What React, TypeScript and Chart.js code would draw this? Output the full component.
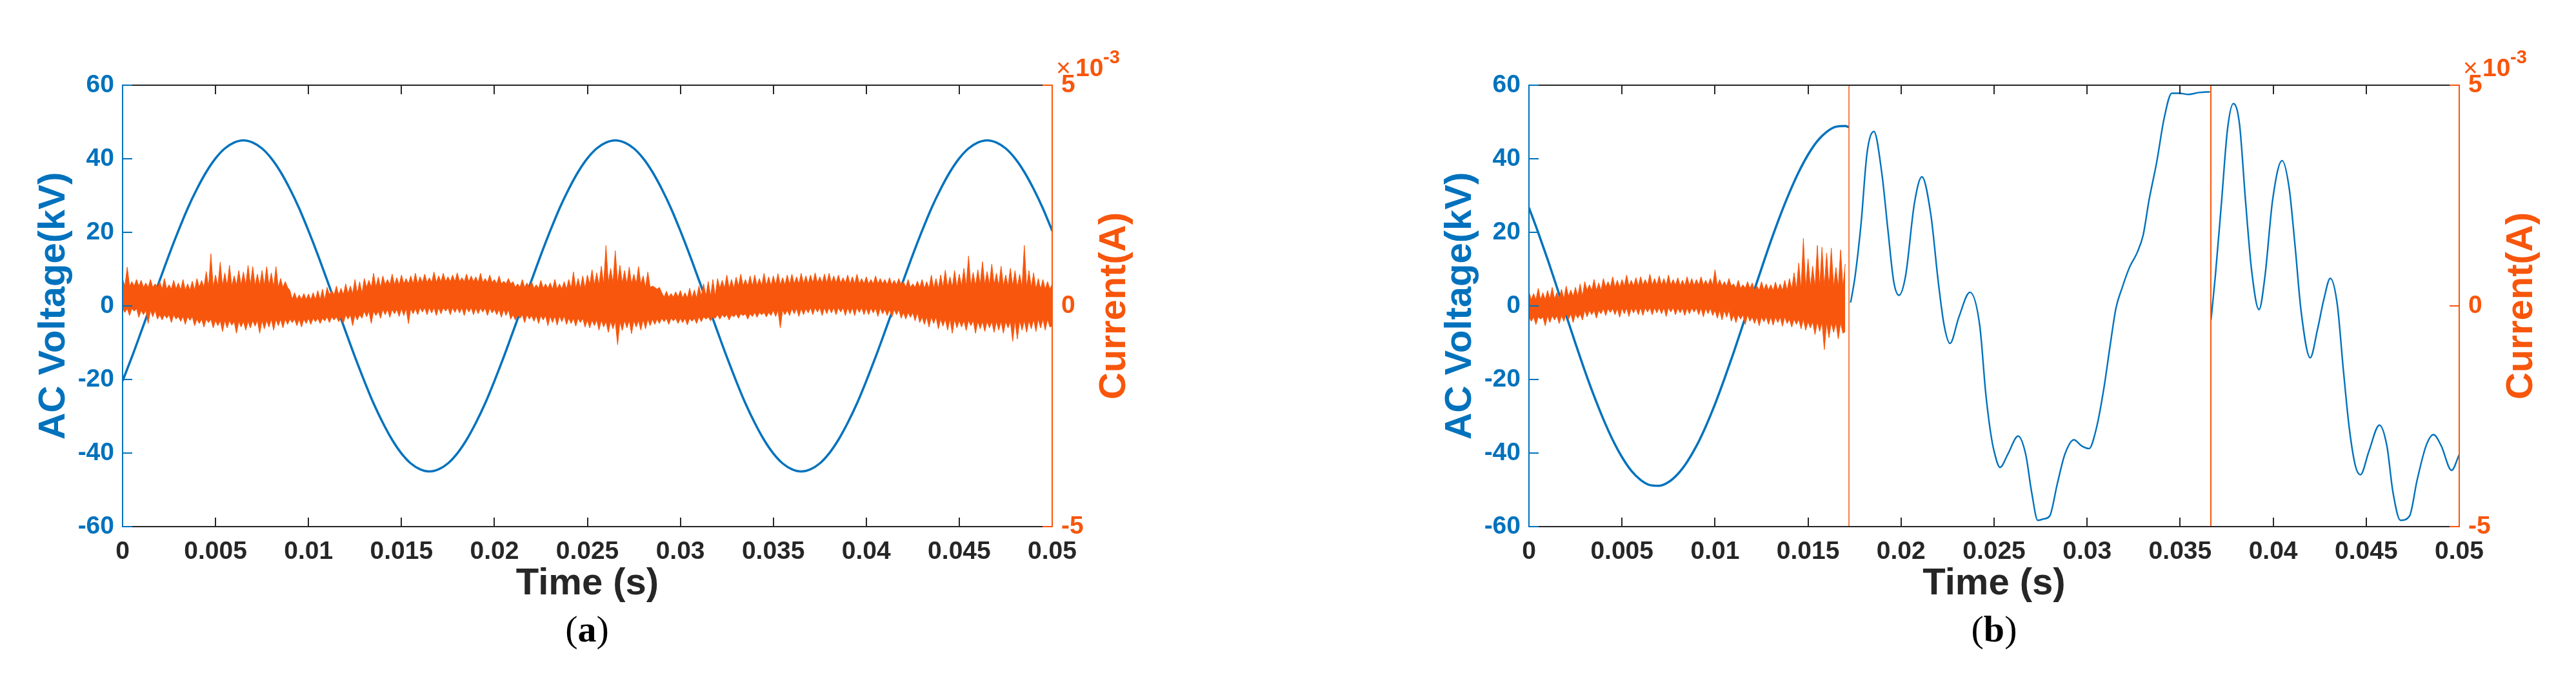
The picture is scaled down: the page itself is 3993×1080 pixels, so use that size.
import React, { useEffect, useRef } from 'react';
import { Chart, registerables } from 'chart.js';

Chart.register(...registerables);

const BLUE = '#0072BD';
const ORANGE = '#F7560C';
const DARK = '#262626';
const SANS = '"Liberation Sans", Arial, Helvetica, sans-serif';
const SERIF = '"Liberation Serif", "Times New Roman", serif';

// ---------- axes / labels ----------
const X_TICKS = [0, 0.005, 0.01, 0.015, 0.02, 0.025, 0.03, 0.035, 0.04, 0.045, 0.05];
const X_TICK_LABELS = ['0', '0.005', '0.01', '0.015', '0.02', '0.025', '0.03', '0.035', '0.04', '0.045', '0.05'];
const V_TICKS = [-60, -40, -20, 0, 20, 40, 60];
const V_TICK_LABELS = ['-60', '-40', '-20', '0', '20', '40', '60'];
const I_TICKS = [-5, 0, 5];
const I_TICK_LABELS = ['-5', '0', '5'];
const TITLE_X = 'Time (s)';
const TITLE_V = 'AC Voltage(kV)';
const TITLE_I = 'Current(A)';
const EXP_BASE = '×10';
const EXP_POWER = '-3';
const CAPTIONS = ['a', 'b'];

// ---------- panel (a) ----------
// voltage (kV), one sample every 0.5 ms, 0 .. 50 ms
const A_VOLT_STEP = 0.0005;
const A_VOLT = [
  -20.4, -13.9, -7.0, 0, 7.0, 13.9, 20.4, 26.5, 31.8, 36.4, 40.1, 42.8, 44.4, 45, 44.4, 42.8, 40.1, 36.4, 31.8, 26.5,
  20.4, 13.9, 7.0, 0, -7.0, -13.9, -20.4, -26.5, -31.8, -36.4, -40.1, -42.8, -44.4, -45, -44.4, -42.8, -40.1, -36.4, -31.8, -26.5,
  -20.4, -13.9, -7.0, 0, 7.0, 13.9, 20.4, 26.5, 31.8, 36.4, 40.1, 42.8, 44.4, 45, 44.4, 42.8, 40.1, 36.4, 31.8, 26.5,
  20.4, 13.9, 7.0, 0, -7.0, -13.9, -20.4, -26.5, -31.8, -36.4, -40.1, -42.8, -44.4, -45, -44.4, -42.8, -40.1, -36.4, -31.8, -26.5,
  -20.4, -13.9, -7.0, 0, 7.0, 13.9, 20.4, 26.5, 31.8, 36.4, 40.1, 42.8, 44.4, 45, 44.4, 42.8, 40.1, 36.4, 31.8, 26.5,
  20.4,
];
// current (x1e-3 A): solid core band, one value per ms
const A_CORE_STEP = 0.001;
const A_CORE_HI = [
  0.45, 0.42, 0.38, 0.36, 0.42, 0.45, 0.47, 0.46, 0.42, 0.15, 0.14, 0.25, 0.28, 0.42, 0.48, 0.5, 0.53, 0.55, 0.55, 0.53,
  0.5, 0.42, 0.4, 0.38, 0.4, 0.48, 0.52, 0.5, 0.42, 0.2, 0.18, 0.22, 0.4, 0.45, 0.46, 0.48, 0.5, 0.52, 0.52, 0.5,
  0.5, 0.48, 0.42, 0.4, 0.42, 0.45, 0.48, 0.45, 0.42, 0.38, 0.36,
];
const A_CORE_LO = [
  -0.06, -0.1, -0.2, -0.24, -0.3, -0.33, -0.35, -0.33, -0.3, -0.3, -0.28, -0.25, -0.2, -0.12, -0.08, -0.06, -0.04, -0.04, -0.04, -0.05,
  -0.08, -0.2, -0.22, -0.23, -0.28, -0.32, -0.35, -0.33, -0.3, -0.28, -0.28, -0.25, -0.2, -0.18, -0.15, -0.1, -0.06, -0.04, -0.04, -0.04,
  -0.05, -0.08, -0.15, -0.25, -0.3, -0.33, -0.35, -0.35, -0.33, -0.3, -0.3,
];
// current spikes (x1e-3 A), one per 0.25 ms
const A_SPIKE_STEP = 0.00025;
const A_SPIKE_HI = [
  0.62, 0.88, 0.55, 0.6, 0.58, 0.52, 0.6, 0.5, 0.55, 0.62, 0.48, 0.58, 0.52, 0.6, 0.5, 0.56,
  0.62, 0.58, 0.78, 1.18, 0.7, 0.99, 0.75, 0.92, 0.68, 0.8, 0.77, 0.92, 0.89, 0.72, 0.8, 0.89,
  0.75, 0.89, 0.62, 0.55, 0.35, 0.3, 0.25, 0.28, 0.27, 0.3, 0.35, 0.38, 0.42, 0.35, 0.45, 0.4,
  0.5, 0.45, 0.6, 0.55, 0.62, 0.58, 0.74, 0.65, 0.68, 0.6, 0.72, 0.64, 0.7, 0.62, 0.68, 0.74,
  0.66, 0.72, 0.64, 0.77, 0.68, 0.74, 0.66, 0.7, 0.75, 0.64, 0.72, 0.68, 0.66, 0.74, 0.62, 0.7,
  0.6, 0.68, 0.56, 0.62, 0.55, 0.5, 0.6, 0.52, 0.55, 0.48, 0.58, 0.5, 0.52, 0.6, 0.5, 0.55,
  0.6, 0.77, 0.62, 0.68, 0.7, 0.82, 0.75, 0.9, 1.37, 0.85, 1.25, 0.92, 0.8, 0.88, 0.72, 0.89,
  0.68, 0.77, 0.45, 0.38, 0.3, 0.33, 0.28, 0.32, 0.35, 0.3, 0.4, 0.36, 0.45, 0.5, 0.55, 0.6,
  0.62, 0.58, 0.7, 0.6, 0.65, 0.72, 0.6, 0.68, 0.7, 0.62, 0.74, 0.66, 0.68, 0.73, 0.64, 0.7,
  0.72, 0.66, 0.74, 0.68, 0.7, 0.75, 0.66, 0.72, 0.74, 0.68, 0.7, 0.64, 0.7, 0.66, 0.72, 0.62,
  0.66, 0.6, 0.68, 0.62, 0.6, 0.64, 0.58, 0.62, 0.55, 0.6, 0.5, 0.56, 0.6, 0.55, 0.7, 0.62,
  0.7, 0.81, 0.66, 0.8, 0.72, 0.85, 1.13, 0.76, 0.82, 1.0, 0.78, 0.95, 0.74, 0.9, 0.7, 0.85,
  0.8, 0.72, 1.37, 0.8, 0.75, 0.62, 0.6, 0.55, 0.5,
];
const A_SPIKE_LO = [
  -0.15, -0.22, -0.12, -0.26, -0.2, -0.4, -0.25, -0.3, -0.32, -0.28, -0.38, -0.3, -0.35, -0.42, -0.33, -0.45,
  -0.4, -0.48, -0.38, -0.5, -0.45, -0.58, -0.5, -0.44, -0.62, -0.48, -0.55, -0.5, -0.46, -0.62, -0.52, -0.48,
  -0.55, -0.45, -0.5, -0.42, -0.38, -0.45, -0.48, -0.4, -0.42, -0.36, -0.4, -0.34, -0.38, -0.32, -0.36, -0.4,
  -0.3, -0.45, -0.32, -0.28, -0.25, -0.4, -0.22, -0.28, -0.2, -0.26, -0.18, -0.24, -0.22, -0.4, -0.18, -0.2,
  -0.14, -0.2, -0.16, -0.22, -0.18, -0.12, -0.2, -0.15, -0.16, -0.22, -0.14, -0.2, -0.18, -0.14, -0.22, -0.16,
  -0.2, -0.26, -0.22, -0.3, -0.32, -0.28, -0.38, -0.3, -0.35, -0.4, -0.32, -0.45, -0.38, -0.44, -0.36, -0.42,
  -0.4, -0.46, -0.38, -0.48, -0.5, -0.45, -0.55, -0.48, -0.6, -0.52, -0.88, -0.56, -0.5, -0.63, -0.48, -0.55,
  -0.52, -0.45, -0.42, -0.4, -0.36, -0.42, -0.34, -0.4, -0.38, -0.43, -0.35, -0.4, -0.36, -0.3, -0.34, -0.28,
  -0.3, -0.26, -0.32, -0.25, -0.28, -0.22, -0.3, -0.24, -0.26, -0.2, -0.25, -0.22, -0.24, -0.5, -0.2, -0.22,
  -0.18, -0.24, -0.2, -0.16, -0.2, -0.14, -0.22, -0.18, -0.16, -0.2, -0.14, -0.22, -0.18, -0.22, -0.15, -0.2,
  -0.2, -0.16, -0.24, -0.18, -0.22, -0.26, -0.2, -0.28, -0.3, -0.26, -0.34, -0.38, -0.42, -0.48, -0.4, -0.52,
  -0.46, -0.55, -0.62, -0.5, -0.48, -0.56, -0.45, -0.62, -0.52, -0.58, -0.5, -0.6, -0.55, -0.62, -0.5, -0.8,
  -0.75, -0.55, -0.6, -0.52, -0.58, -0.5, -0.55, -0.48, -0.45,
];

// ---------- panel (b) ----------
// voltage before first breakdown (kV), every 0.5 ms from 0 to 17 ms, then 17.2 ms
const B_PRE_STEP = 0.0005;
const B_PRE_VOLT = [
  26.7, 19.9, 12.7, 5.1, -2.6, -10.2, -17.6, -24.5, -30.8, -36.4, -41.1, -44.8, -47.3, -48.7, -48.9, -47.9, -45.7, -42.4,
  -38.1, -32.8, -26.7, -19.9, -12.7, -5.1, 2.6, 10.2, 17.6, 24.5, 30.8, 36.4, 41.1, 44.8, 47.3, 48.7, 48.9,
];
const B_PRE_END_T = 0.0172;
const B_PRE_END_V = 48.6;
// voltage between the two breakdowns: time (ms) and value (kV)
const B_MID_T = [
  17.29, 17.53, 17.85, 18.17, 18.54, 18.97, 19.29, 19.61, 19.89, 20.24, 20.72, 21.12, 21.6, 22.0, 22.32, 22.63, 23.11,
  23.7, 24.23, 24.55, 24.8, 25.0, 25.32, 25.73, 26.29, 26.7, 27.02, 27.35, 27.67, 27.99, 28.4, 28.8, 29.29, 29.69,
  30.1, 30.5, 30.91, 31.23, 31.55, 31.88, 32.28, 32.69, 33.01, 33.33, 33.74, 34.14, 34.55, 34.95, 35.44, 36.0, 36.6,
];
const B_MID_V = [
  0.9, 8.1, 22.4, 41.5, 47.4, 35.9, 20.8, 6.5, 2.9, 8.1, 28.0, 35.1, 24.8, 6.5, -5.4, -10.2, -3.0,
  3.7, -5.4, -23.7, -34.0, -39.5, -43.9, -40.4, -35.4, -40.4, -50.7, -58.3, -57.9, -57.1, -48.3, -40.4, -36.4, -38.0,
  -38.8, -33.2, -22.1, -11.0, -0.6, 4.9, 10.5, 14.5, 19.2, 28.8, 39.1, 51.0, 57.8, 57.8, 57.5, 58.0, 58.2,
];
// voltage after the second breakdown
const B_POST_T = [
  36.66, 36.89, 37.22, 37.54, 37.86, 38.19, 38.51, 38.84, 39.24, 39.56, 39.97, 40.48, 40.86, 41.18, 41.5, 41.99, 42.39,
  42.72, 43.07, 43.45, 43.77, 44.09, 44.42, 44.69, 45.14, 45.71, 46.11, 46.44, 46.84, 47.33, 47.73, 48.22, 48.62, 49.03,
  49.59, 50.0,
];
const B_POST_V = [
  -3.8, 8.1, 28.0, 47.8, 55.0, 49.4, 28.8, 9.7, -1.0, 8.1, 28.8, 39.5, 32.0, 16.1, -1.4, -14.1, -6.2,
  1.7, 7.5, 0.2, -17.3, -33.2, -43.5, -45.9, -39.6, -32.4, -38.0, -50.7, -58.3, -57.1, -47.5, -38.0, -35.0, -38.0,
  -44.7, -40.4,
];
// current (x1e-3 A) before first breakdown
const B_CORE_STEP = 0.001;
const B_CORE_HI = [0.14, 0.16, 0.22, 0.35, 0.42, 0.45, 0.47, 0.47, 0.46, 0.47, 0.45, 0.4, 0.36, 0.35, 0.38, 0.42, 0.42, 0.42];
const B_CORE_LO = [-0.25, -0.22, -0.18, -0.1, -0.06, -0.05, -0.04, -0.04, -0.05, -0.05, -0.1, -0.2, -0.25, -0.25, -0.3, -0.36, -0.38, -0.38];
const B_SPIKE_STEP = 0.00025;
const B_SPIKE_HI = [
  0.32, 0.28, 0.4, 0.3, 0.35, 0.42, 0.3, 0.38, 0.45, 0.36, 0.42, 0.5, 0.55, 0.48, 0.6, 0.52,
  0.62, 0.55, 0.66, 0.58, 0.6, 0.7, 0.58, 0.64, 0.66, 0.6, 0.72, 0.62, 0.68, 0.62, 0.7, 0.6,
  0.64, 0.58, 0.66, 0.62, 0.6, 0.66, 0.58, 0.62, 0.82, 0.6, 0.55, 0.62, 0.5, 0.58, 0.48, 0.55,
  0.52, 0.45, 0.55, 0.5, 0.48, 0.54, 0.5, 0.58, 0.62, 0.75, 0.97, 1.53, 1.07, 0.9, 1.37, 1.33,
  1.2, 1.31, 0.87, 1.27, 0.95,
];
const B_SPIKE_LO = [
  -0.35, -0.42, -0.3, -0.45, -0.38, -0.32, -0.4, -0.35, -0.3, -0.38, -0.28, -0.32, -0.25, -0.2, -0.28, -0.18,
  -0.22, -0.15, -0.2, -0.26, -0.18, -0.24, -0.16, -0.2, -0.22, -0.14, -0.2, -0.16, -0.18, -0.24, -0.14, -0.2,
  -0.16, -0.22, -0.18, -0.14, -0.2, -0.25, -0.18, -0.22, -0.28, -0.32, -0.26, -0.35, -0.38, -0.3, -0.42, -0.35,
  -0.4, -0.45, -0.36, -0.42, -0.44, -0.38, -0.46, -0.4, -0.48, -0.42, -0.52, -0.55, -0.5, -0.65, -0.58, -0.99,
  -0.72, -0.6, -0.75, -0.62, -0.58,
];
// breakdown instants (s): current leaves the ±5e-3 A range
const B_BREAK_T = [0.0172, 0.03665];
const B_BREAK_WIDTH = [1.5, 2];

// ---------- helpers ----------
type P = { x: number; y: number };

function series(step: number, values: number[]): P[] {
  return values.map((v, i) => ({ x: i * step, y: v }));
}
function seriesMs(times: number[], values: number[]): P[] {
  return times.map((t, i) => ({ x: t / 1000, y: values[i] }));
}
function noiseEdges(coreHi: number[], coreLo: number[], hi: number[], lo: number[], coreStep: number, step: number) {
  const upper: P[] = [];
  const lower: P[] = [];
  const n = hi.length;
  for (let i = 0; i < n; i++) {
    const t = i * step;
    const c = Math.min(Math.floor(t / coreStep + 1e-9), coreHi.length - 1);
    upper.push({ x: t, y: hi[i] });
    if (i < n - 1) {
      upper.push({ x: t + step / 2, y: coreHi[c] });
      lower.push({ x: t, y: coreLo[c] });
      lower.push({ x: t + step / 2, y: lo[i] });
    } else {
      lower.push({ x: t, y: lo[i] });
    }
  }
  return { upper, lower };
}

function noiseDatasets(edges: { upper: P[]; lower: P[] }) {
  return [
    {
      data: edges.upper, yAxisID: 'y1', borderColor: ORANGE, backgroundColor: ORANGE, borderWidth: 1,
      fill: '+1', pointRadius: 0, order: 1,
    },
    {
      data: edges.lower, yAxisID: 'y1', borderColor: ORANGE, backgroundColor: ORANGE, borderWidth: 1,
      fill: false, pointRadius: 0, order: 1,
    },
  ];
}
function voltDataset(data: P[], width: number) {
  return {
    data, yAxisID: 'y', borderColor: BLUE, borderWidth: width, fill: false, pointRadius: 0,
    cubicInterpolationMode: 'monotone', order: 2,
  };
}

function buildA() {
  const edges = noiseEdges(A_CORE_HI, A_CORE_LO, A_SPIKE_HI, A_SPIKE_LO, A_CORE_STEP, A_SPIKE_STEP);
  return [...noiseDatasets(edges), voltDataset(series(A_VOLT_STEP, A_VOLT), 3.5)];
}
function buildB() {
  const edges = noiseEdges(B_CORE_HI, B_CORE_LO, B_SPIKE_HI, B_SPIKE_LO, B_CORE_STEP, B_SPIKE_STEP);
  const pre = series(B_PRE_STEP, B_PRE_VOLT).concat([{ x: B_PRE_END_T, y: B_PRE_END_V }]);
  const breaks = B_BREAK_T.map((t, i) => ({
    data: [{ x: t, y: I_TICKS[0] }, { x: t, y: I_TICKS[I_TICKS.length - 1] }],
    yAxisID: 'y1', borderColor: ORANGE, borderWidth: B_BREAK_WIDTH[i], fill: false, pointRadius: 0, order: 0,
  }));
  return [
    ...noiseDatasets(edges),
    voltDataset(pre, 3.5),
    voltDataset(seriesMs(B_MID_T, B_MID_V), 2.4),
    voltDataset(seriesMs(B_POST_T, B_POST_V), 2.4),
    ...breaks,
  ];
}

const tickFont = { family: SANS, size: 39, weight: 'bold' as const };

const decoPlugin = {
  id: 'deco',
  afterDatasetsDraw(chart: any) {
    const { ctx, chartArea: ca, scales } = chart;
    const seg = (x1: number, y1: number, x2: number, y2: number) => {
      ctx.beginPath();
      ctx.moveTo(x1, y1);
      ctx.lineTo(x2, y2);
      ctx.stroke();
    };
    ctx.save();
    ctx.lineWidth = 2;
    ctx.lineCap = 'butt';
    ctx.strokeStyle = DARK;
    seg(ca.left, ca.top, ca.right, ca.top);
    seg(ca.left, ca.bottom, ca.right, ca.bottom);
    X_TICKS.slice(1, -1).forEach((v) => {
      const px = Math.round(scales.x.getPixelForValue(v));
      seg(px, ca.bottom, px, ca.bottom - 14);
      seg(px, ca.top, px, ca.top + 14);
    });
    ctx.strokeStyle = BLUE;
    seg(ca.left, ca.top - 1, ca.left, ca.bottom + 1);
    V_TICKS.forEach((v) => {
      const py = scales.y.getPixelForValue(v);
      seg(ca.left, py, ca.left + 15, py);
    });
    ctx.strokeStyle = ORANGE;
    seg(ca.right, ca.top - 1, ca.right, ca.bottom + 1);
    I_TICKS.forEach((v) => {
      const py = scales.y1.getPixelForValue(v);
      seg(ca.right, py, ca.right - 15, py);
    });

    const midY = (ca.top + ca.bottom) / 2;
    ctx.font = `bold 58px ${SANS}`;
    ctx.textAlign = 'center';
    ctx.textBaseline = 'alphabetic';
    ctx.fillStyle = BLUE;
    ctx.save();
    ctx.translate(ca.left - 90, midY);
    ctx.rotate(-Math.PI / 2);
    ctx.fillText(TITLE_V, 0, 0);
    ctx.restore();
    ctx.fillStyle = ORANGE;
    ctx.save();
    ctx.translate(ca.right + 113, midY);
    ctx.rotate(-Math.PI / 2);
    ctx.fillText(TITLE_I, 0, 0);
    ctx.restore();
    ctx.fillStyle = DARK;
    ctx.fillText(TITLE_X, (ca.left + ca.right) / 2, ca.bottom + 105);

    ctx.fillStyle = ORANGE;
    ctx.textAlign = 'left';
    ctx.font = `39px ${SANS}`;
    ctx.fillText(EXP_BASE.charAt(0), ca.right + 6, ca.top - 14);
    ctx.font = `bold 39px ${SANS}`;
    ctx.fillText(EXP_BASE.slice(1), ca.right + 36, ca.top - 14);
    ctx.font = `bold 29px ${SANS}`;
    ctx.fillText(EXP_POWER, ca.right + 79, ca.top - 34);
    ctx.restore();
  },
};

type Geom = { canvasLeft: number; canvasWidth: number; leftW: number; padRight: number };

function makeConfig(datasets: any[], g: Geom): any {
  const hidden = { display: false, drawTicks: false, tickLength: 0 };
  return {
    type: 'line',
    data: { datasets },
    options: {
      animation: false,
      responsive: false,
      devicePixelRatio: 1,
      events: [],
      layout: { padding: { left: 0, top: 132, right: g.padRight, bottom: 164 } },
      plugins: { legend: { display: false }, tooltip: { enabled: false }, title: { display: false } },
      elements: { point: { radius: 0 }, line: { tension: 0 } },
      scales: {
        x: {
          type: 'linear', position: 'bottom', min: X_TICKS[0], max: X_TICKS[X_TICKS.length - 1],
          grid: hidden, border: { display: false },
          afterBuildTicks: (s: any) => { s.ticks = X_TICKS.map((v) => ({ value: v })); },
          afterFit: (s: any) => { s.height = 100; },
          ticks: {
            autoSkip: false, maxRotation: 0, minRotation: 0, padding: 16, color: DARK, font: tickFont,
            callback: (_v: any, i: number) => X_TICK_LABELS[i],
          },
        },
        y: {
          type: 'linear', position: 'left', min: V_TICKS[0], max: V_TICKS[V_TICKS.length - 1],
          grid: hidden, border: { display: false },
          afterBuildTicks: (s: any) => { s.ticks = V_TICKS.map((v) => ({ value: v })); },
          afterFit: (s: any) => { s.width = g.leftW; },
          ticks: { padding: 13, color: BLUE, font: tickFont, callback: (_v: any, i: number) => V_TICK_LABELS[i] },
        },
        y1: {
          type: 'linear', position: 'right', min: I_TICKS[0], max: I_TICKS[I_TICKS.length - 1],
          grid: hidden, border: { display: false },
          afterBuildTicks: (s: any) => { s.ticks = I_TICKS.map((v) => ({ value: v })); },
          afterFit: (s: any) => { s.width = 100; },
          ticks: { padding: 14, color: ORANGE, font: tickFont, callback: (_v: any, i: number) => I_TICK_LABELS[i] },
        },
      },
    },
    plugins: [decoPlugin],
  };
}

function PanelCanvas({ geom, build }: { geom: Geom; build: () => any[] }) {
  const ref = useRef<HTMLCanvasElement>(null);
  useEffect(() => {
    const chart = new Chart(ref.current as HTMLCanvasElement, makeConfig(build(), geom));
    return () => chart.destroy();
  }, []);
  return (
    <canvas
      ref={ref}
      width={geom.canvasWidth}
      height={1080}
      style={{ position: 'absolute', left: geom.canvasLeft, top: 0, width: geom.canvasWidth, height: 1080 }}
    />
  );
}

const GEOM_A: Geom = { canvasLeft: 0, canvasWidth: 1996, leftW: 190, padRight: 265 };
const GEOM_B: Geom = { canvasLeft: 1996, canvasWidth: 1997, leftW: 374, padRight: 81 };

function Caption({ centerX, letter }: { centerX: number; letter: string }) {
  return (
    <div
      style={{
        position: 'absolute', left: centerX - 100, width: 200, top: 946, textAlign: 'center',
        fontFamily: SERIF, fontSize: 58, lineHeight: '58px', color: '#000',
      }}
    >
      (<b>{letter}</b>)
    </div>
  );
}

export default function App() {
  return (
    <div style={{ position: 'absolute', left: 0, top: 0, width: 3993, height: 1080, background: '#fff', overflow: 'hidden' }}>
      <PanelCanvas geom={GEOM_A} build={buildA} />
      <PanelCanvas geom={GEOM_B} build={buildB} />
      <Caption centerX={910} letter={CAPTIONS[0]} />
      <Caption centerX={3091} letter={CAPTIONS[1]} />
    </div>
  );
}
